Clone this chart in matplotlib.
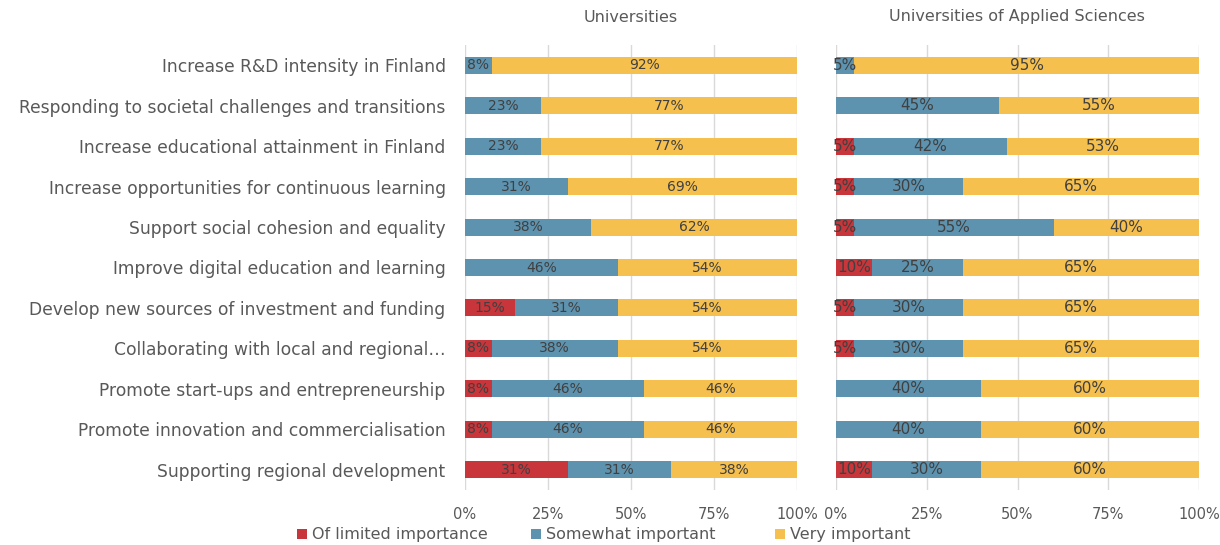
import matplotlib
matplotlib.use("Agg")
import matplotlib.pyplot as plt
from matplotlib.patches import Patch

categories = [
    "Increase R&D intensity in Finland",
    "Responding to societal challenges and transitions",
    "Increase educational attainment in Finland",
    "Increase opportunities for continuous learning",
    "Support social cohesion and equality",
    "Improve digital education and learning",
    "Develop new sources of investment and funding",
    "Collaborating with local and regional\u2026",
    "Promote start-ups and entrepreneurship",
    "Promote innovation and commercialisation",
    "Supporting regional development",
]

series_names = ["Of limited importance", "Somewhat important", "Very important"]

uni_limited = [0, 0, 0, 0, 0, 0, 15, 8, 8, 8, 31]
uni_somewhat = [8, 23, 23, 31, 38, 46, 31, 38, 46, 46, 31]
uni_very = [92, 77, 77, 69, 62, 54, 54, 54, 46, 46, 38]

uas_limited = [0, 0, 5, 5, 5, 10, 5, 5, 0, 0, 10]
uas_somewhat = [5, 45, 42, 30, 55, 25, 30, 30, 40, 40, 30]
uas_very = [95, 55, 53, 65, 40, 65, 65, 65, 60, 60, 60]

panel_titles = ["Universities", "Universities of Applied Sciences"]
x_ticks = [0, 25, 50, 75, 100]
x_tick_labels = ["0%", "25%", "50%", "75%", "100%"]

colors = ["#C8353A", "#5E93B0", "#F5C04E"]
text_gray = "#595959"
label_gray = "#404040"
grid_gray = "#D9D9D9"

W, H = 1220, 545
fig = plt.figure(figsize=(W / 100, H / 100), dpi=100)
fig.patch.set_facecolor("white")

ax_left = fig.add_axes([465 / W, 1 - 490 / H, 332 / W, 445 / H])
ax_right = fig.add_axes([836 / W, 1 - 490 / H, 363 / W, 445 / H])

panels = [
    (ax_left, [uni_limited, uni_somewhat, uni_very], 10),
    (ax_right, [uas_limited, uas_somewhat, uas_very], 11),
]

y_pos = list(range(len(categories)))

for ax, data, fsize in panels:
    left = [0] * len(categories)
    for s, vals in enumerate(data):
        bars = ax.barh(y_pos, vals, left=left, height=0.42, color=colors[s],
                       zorder=3, label=series_names[s])
        for rect, v in zip(bars, vals):
            if v > 0:
                ax.text(rect.get_x() + rect.get_width() / 2,
                        rect.get_y() + rect.get_height() / 2,
                        f"{v}%", ha="center", va="center",
                        fontsize=fsize, color=label_gray, zorder=4)
        left = [a + b for a, b in zip(left, vals)]
    ax.set_xlim(0, 100)
    ax.set_ylim(len(categories) - 0.5, -0.5)
    ax.set_xticks(x_ticks)
    ax.set_xticklabels(x_tick_labels, fontsize=10.5, color=text_gray)
    ax.tick_params(axis="x", length=0, pad=12)
    ax.tick_params(axis="y", length=0)
    ax.grid(axis="x", color=grid_gray, linewidth=1, zorder=0)
    for sp in ax.spines.values():
        sp.set_visible(False)

ax_left.set_yticks(y_pos)
ax_left.set_yticklabels(categories, fontsize=12.3, color=text_gray)
ax_left.tick_params(axis="y", pad=14)
ax_right.set_yticks([])

fig.text(631 / W, 1 - 17 / H, panel_titles[0], ha="center", va="center",
         fontsize=11.5, color=text_gray)
fig.text(1017 / W, 1 - 17 / H, panel_titles[1], ha="center", va="center",
         fontsize=11.5, color=text_gray)

# One legend entry per series, spread along the bottom edge
legend_x = [283, 517, 761]
for name, c, lx in zip(series_names, colors, legend_x):
    fig.legend([Patch(facecolor=c, edgecolor="none")], [name],
               loc="center left", bbox_to_anchor=(lx / W, 1 - 535 / H),
               frameon=False, fontsize=11.5, labelcolor=text_gray,
               handlelength=0.6, handleheight=0.6, handletextpad=0.3)

fig.savefig("out.png", dpi=100, facecolor="white")
